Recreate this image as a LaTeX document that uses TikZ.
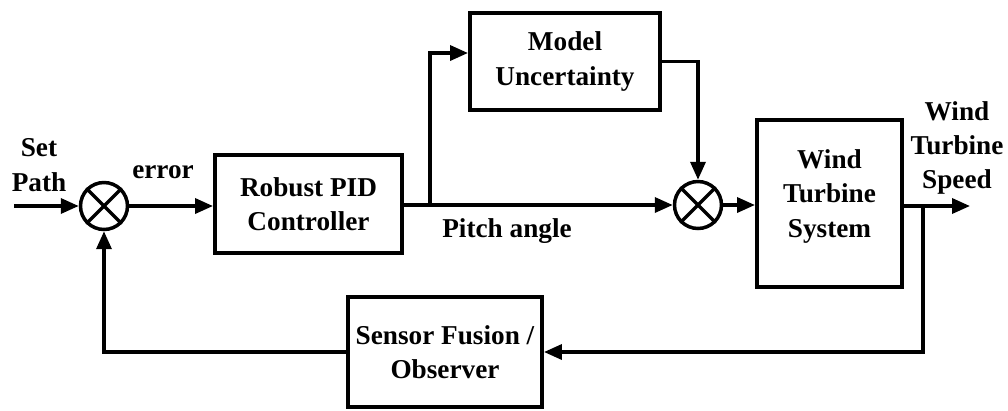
\documentclass[tikz,border=0pt]{standalone}
\usepackage{fontspec}
\setmainfont{Liberation Serif}
\usetikzlibrary{arrows.meta}

\tikzset{
  blockbox/.style={draw,line width=0.08cm,align=center,inner sep=0pt},
  sumnode/.style={draw,circle,line width=0.07cm,minimum size=0.94cm,inner sep=0pt},
  signal/.style={line width=0.07cm,-{Triangle[length=0.36cm,width=0.3cm]}},
  wire/.style={line width=0.07cm},
  lbl/.style={align=center}
}

\begin{document}
\begin{tikzpicture}[x=0.02cm,y=-0.02cm,font=\fontsize{15.5}{19.5}\selectfont\bfseries]
    \useasboundingbox (0,0) rectangle (1008,410);

    % Blocks
    \node[blockbox,minimum width=3.74cm,minimum height=1.96cm] (pid) at (308.5,204) {Robust PID\\Controller};
    \node[blockbox,minimum width=3.8cm,minimum height=1.94cm] (model) at (565,61.5) {Model\\Uncertainty};
    \node[blockbox,minimum width=2.9cm,minimum height=3.34cm,text depth=0.4cm] (wts) at (829.5,203.5) {Wind\\Turbine\\System};
    \node[blockbox,minimum width=3.88cm,minimum height=2.2cm] (sensor) at (445,352) {Sensor Fusion /\\Observer};

    % Summing junctions
    \node[sumnode] (sum1) at (104,206) {};
    \node[sumnode] (sum2) at (698,205) {};
    \foreach \s in {sum1,sum2} {
      \draw[wire] (\s.north west) -- (\s.south east);
      \draw[wire] (\s.north east) -- (\s.south west);
    }

    % Helper points
    \coordinate (ref) at (14,206);
    \coordinate (br1) at (430,205);
    \coordinate (br2) at (923,206);
    \coordinate (out) at (970,206);

    % Forward path
    \draw[signal] (ref) -- (sum1.west);
    \draw[signal] (sum1.east) -- (pid.west |- sum1.east);
    \draw[signal] (pid.east |- br1) -- (sum2.west);
    \draw[signal] (br1) |- (model.175);
    \draw[signal] (model.east) -| (sum2.north);
    \draw[signal] (sum2.east) -- (wts.west |- sum2.east);
    \draw[signal] (wts.east |- out) -- (out);

    % Feedback path
    \draw[signal] (br2) |- (sensor.east);
    \draw[signal] (sensor.west) -| (sum1.south);

    % Labels
    \node[lbl] (setpath) at (39,165) {Set\\Path};
    \node[lbl] (err) at (163,172) {error};
    \node[lbl] (pitch) at (507,231) {Pitch angle};
    \node[lbl] (speed) at (957,148) {Wind\\Turbine\\Speed};
\end{tikzpicture}
\end{document}
